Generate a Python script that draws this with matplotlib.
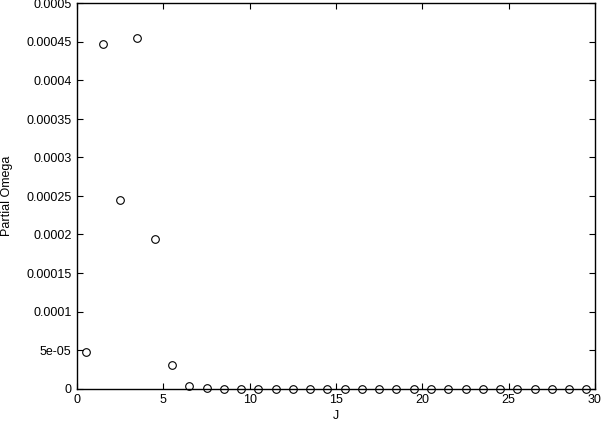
import numpy as np
import matplotlib
matplotlib.use("Agg")
import matplotlib.pyplot as plt

# J values and partial omega
J = [0.5, 1.5, 2.5, 3.5, 4.5, 5.5, 6.5, 7.5, 8.5, 9.5, 10.5, 11.5, 12.5, 13.5, 14.5,
     15.5, 16.5, 17.5, 18.5, 19.5, 20.5, 21.5, 22.5, 23.5, 24.5, 25.5, 26.5, 27.5, 28.5, 29.5]
omega = [4.69e-5, 4.48e-4, 2.454e-4, 4.55e-4, 1.94e-4, 3.09e-5, 2.6e-6, 3e-7, 0, 0,
         0, 0, 0, 0, 0, 0, 0, 0, 0, 0, 0, 0, 0, 0, 0, 0, 0, 0, 0, 0]

xticks = [0, 5, 10, 15, 20, 25, 30]
yticks = [0, 5e-5, 1e-4, 1.5e-4, 2e-4, 2.5e-4, 3e-4, 3.5e-4, 4e-4, 4.5e-4, 5e-4]
ytick_labels = ["0", "5e-05", "0.0001", "0.00015", "0.0002", "0.00025", "0.0003",
                "0.00035", "0.0004", "0.00045", "0.0005"]

plt.rcParams['font.family'] = ['Liberation Sans', 'DejaVu Sans']
plt.rcParams['font.size'] = 9

fig = plt.figure(figsize=(6.02, 4.23), dpi=100)
ax = fig.add_axes([77/602, 34.5/423, (595-77)/602, (388.5-3.5)/423])

ax.plot(J, omega, 'o', mfc='none', mec='black', ms=5.5, mew=0.8, clip_on=False)

ax.set_xlim(0, 30)
ax.set_ylim(0, 0.0005)
ax.set_xticks(xticks)
ax.set_xticklabels([str(t) for t in xticks])
ax.set_yticks(yticks)
ax.set_yticklabels(ytick_labels)
ax.tick_params(direction='in', top=True, right=True, length=4, width=0.8, pad=4, labelsize=9)
for s in ax.spines.values():
    s.set_linewidth(1.0)

ax.set_xlabel("J", fontsize=9, labelpad=3)
ax.set_ylabel("Partial Omega", fontsize=9)
ax.yaxis.set_label_coords(-0.123, 0.5)

fig.savefig("out.png", dpi=100)
